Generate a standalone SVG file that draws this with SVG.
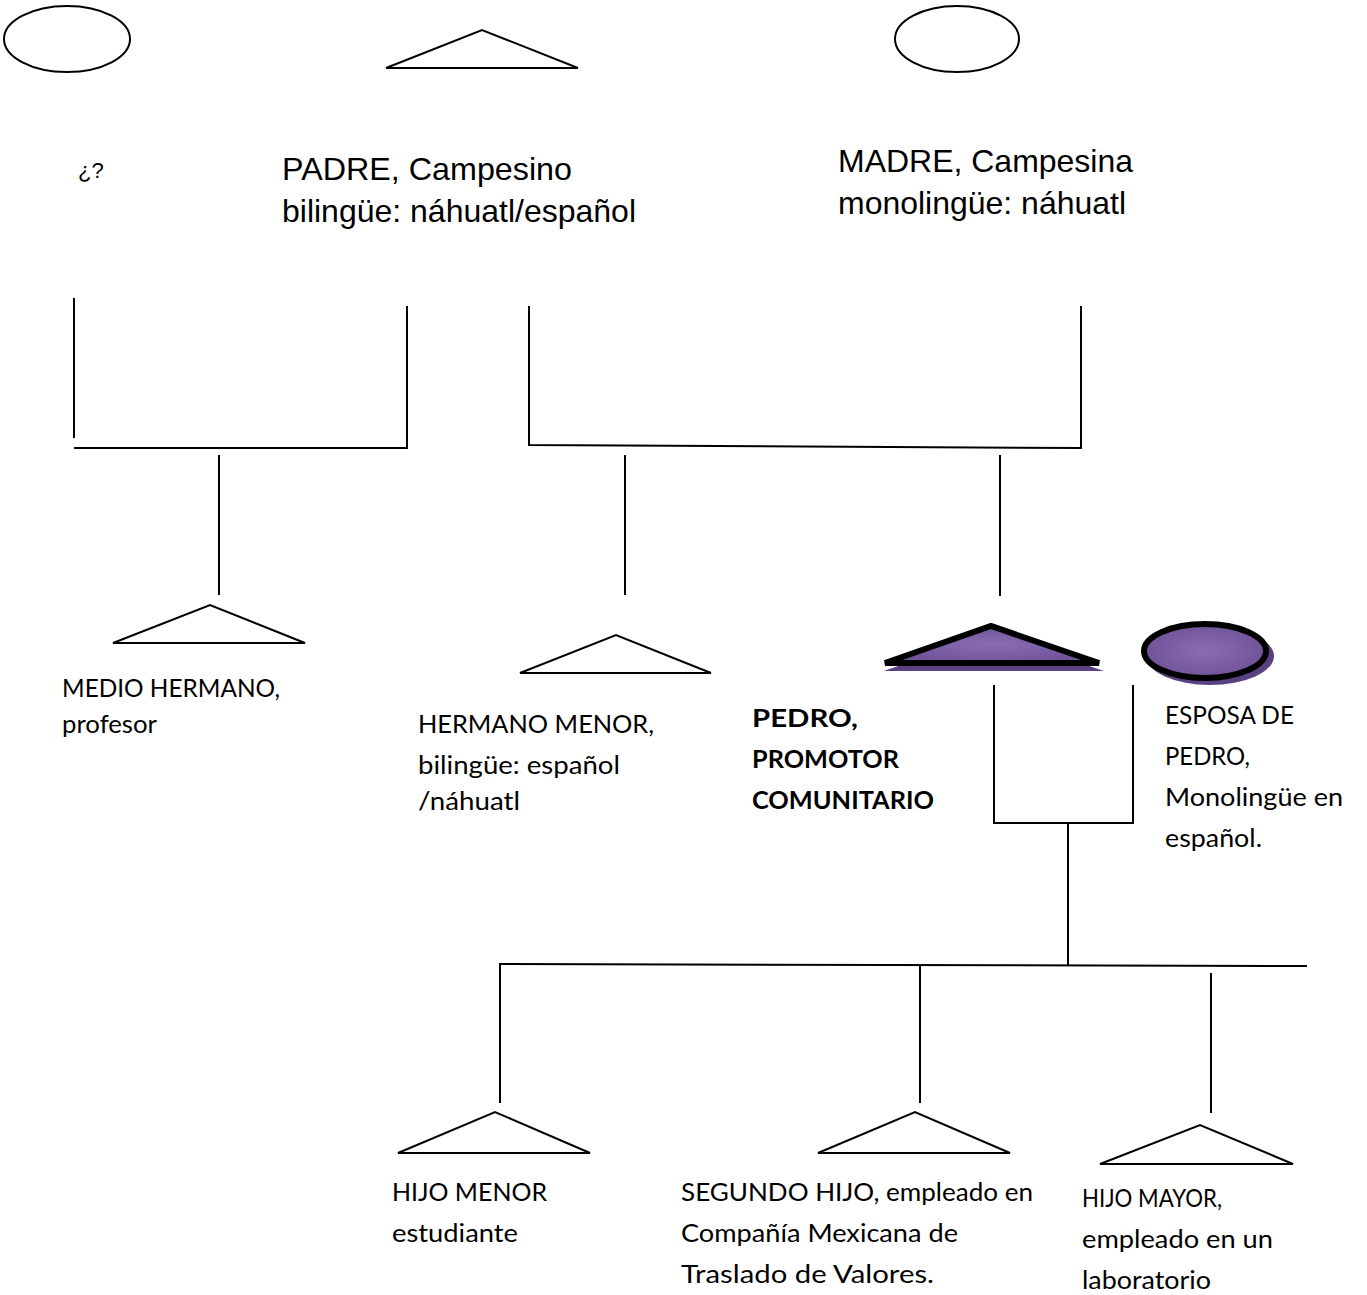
<svg xmlns="http://www.w3.org/2000/svg" width="1367" height="1295" viewBox="0 0 1367 1295">
<style>
.shape{fill:#fff;stroke:#000;stroke-width:2}
.ln{stroke:#000;stroke-width:2;fill:none}
.ar{font-family:"Liberation Sans",Arial,sans-serif;fill:#000}
.cb{font-family:Lato,"Open Sans",sans-serif;font-size:25px;fill:#000}
.bold{font-weight:bold}
.pur{fill:url(#pg);stroke:#000;stroke-width:6;stroke-linejoin:miter}
.shadow{fill:#5a4182}
</style>
<defs>
<radialGradient id="pg" cx="50%" cy="50%" r="60%">
<stop offset="0" stop-color="#8a6cb2"/>
<stop offset="1" stop-color="#6b4e93"/>
</radialGradient>
</defs>
<rect width="1367" height="1295" fill="#fff"/>

<g id="connectors">
<polyline class="ln" points="74,298 74,438"/>
<polyline class="ln" points="74,448 407,448 407,306"/>
<line class="ln" x1="219" y1="455" x2="219" y2="595"/>
<polyline class="ln" points="529,306 529,445 1081,448 1081,306"/>
<line class="ln" x1="625" y1="455" x2="625" y2="595"/>
<line class="ln" x1="1000" y1="455" x2="1000" y2="596"/>
<polyline class="ln" points="994,685 994,823 1133,823 1133,685"/>
<line class="ln" x1="1068" y1="823" x2="1068" y2="965"/>
<polyline class="ln" points="500,1103 500,964 1307,966"/>
<line class="ln" x1="920" y1="965" x2="920" y2="1103"/>
<line class="ln" x1="1211" y1="973" x2="1211" y2="1113"/>
</g>

<g id="node-unknown">
<ellipse class="shape" cx="67" cy="39" rx="63" ry="33"/>
<text class="ar" x="78" y="178" font-size="22">¿?</text>
</g>

<g id="node-padre">
<polygon class="shape" points="386,68 482,30 578,68"/>
<text class="ar" x="282" y="180" font-size="32" textLength="290" lengthAdjust="spacingAndGlyphs">PADRE, Campesino</text>
<text class="ar" x="282" y="222" font-size="32" textLength="354" lengthAdjust="spacingAndGlyphs">bilingüe: náhuatl/español</text>
</g>

<g id="node-madre">
<ellipse class="shape" cx="957" cy="39" rx="62" ry="33"/>
<text class="ar" x="838" y="172" font-size="32" textLength="295" lengthAdjust="spacingAndGlyphs">MADRE, Campesina</text>
<text class="ar" x="838" y="214" font-size="32" textLength="288" lengthAdjust="spacingAndGlyphs">monolingüe: náhuatl</text>
</g>

<g id="node-medio-hermano">
<polygon class="shape" points="113,643 210,605 305,643"/>
<text class="cb" x="62" y="697" textLength="218" lengthAdjust="spacingAndGlyphs">MEDIO HERMANO,</text>
<text class="cb" x="62" y="733" textLength="95" lengthAdjust="spacingAndGlyphs">profesor</text>
</g>

<g id="node-hermano-menor">
<polygon class="shape" points="520,673 616,635 711,673"/>
<text class="cb" x="418" y="733" textLength="236" lengthAdjust="spacingAndGlyphs">HERMANO MENOR,</text>
<text class="cb" x="418" y="774" textLength="202" lengthAdjust="spacingAndGlyphs">bilingüe: español</text>
<text class="cb" x="418" y="810" textLength="102" lengthAdjust="spacingAndGlyphs">/náhuatl</text>
</g>

<g id="node-pedro">
<polygon class="shadow" points="884,671 992,633 1104,671"/>
<polygon class="pur" points="885,663 991,626 1099,663"/>
<text class="cb bold" x="752" y="727" textLength="106" lengthAdjust="spacingAndGlyphs">PEDRO,</text>
<text class="cb bold" x="752" y="768" textLength="147" lengthAdjust="spacingAndGlyphs">PROMOTOR</text>
<text class="cb bold" x="752" y="809" textLength="182" lengthAdjust="spacingAndGlyphs">COMUNITARIO</text>
</g>

<g id="node-esposa">
<ellipse class="shadow" cx="1210" cy="656" rx="64" ry="29"/>
<ellipse class="pur" cx="1205" cy="651" rx="61" ry="27"/>
<text class="cb" x="1165" y="724" textLength="129" lengthAdjust="spacingAndGlyphs">ESPOSA DE</text>
<text class="cb" x="1165" y="765" textLength="85" lengthAdjust="spacingAndGlyphs">PEDRO,</text>
<text class="cb" x="1165" y="806" textLength="178" lengthAdjust="spacingAndGlyphs">Monolingüe en</text>
<text class="cb" x="1165" y="847" textLength="97" lengthAdjust="spacingAndGlyphs">español.</text>
</g>

<g id="node-hijo-menor">
<polygon class="shape" points="398,1153 495,1112 590,1153"/>
<text class="cb" x="392" y="1201" textLength="155" lengthAdjust="spacingAndGlyphs">HIJO MENOR</text>
<text class="cb" x="392" y="1242" textLength="126" lengthAdjust="spacingAndGlyphs">estudiante</text>
</g>

<g id="node-segundo-hijo">
<polygon class="shape" points="818,1153 915,1112 1010,1153"/>
<text class="cb" x="681" y="1201" textLength="352" lengthAdjust="spacingAndGlyphs">SEGUNDO HIJO, empleado en</text>
<text class="cb" x="681" y="1242" textLength="277" lengthAdjust="spacingAndGlyphs">Compañía Mexicana de</text>
<text class="cb" x="681" y="1283" textLength="253" lengthAdjust="spacingAndGlyphs">Traslado de Valores.</text>
</g>

<g id="node-hijo-mayor">
<polygon class="shape" points="1100,1164 1200,1125 1293,1164"/>
<text class="cb" x="1082" y="1207" textLength="140" lengthAdjust="spacingAndGlyphs">HIJO MAYOR,</text>
<text class="cb" x="1082" y="1248" textLength="191" lengthAdjust="spacingAndGlyphs">empleado en un</text>
<text class="cb" x="1082" y="1289" textLength="129" lengthAdjust="spacingAndGlyphs">laboratorio</text>
</g>
</svg>
